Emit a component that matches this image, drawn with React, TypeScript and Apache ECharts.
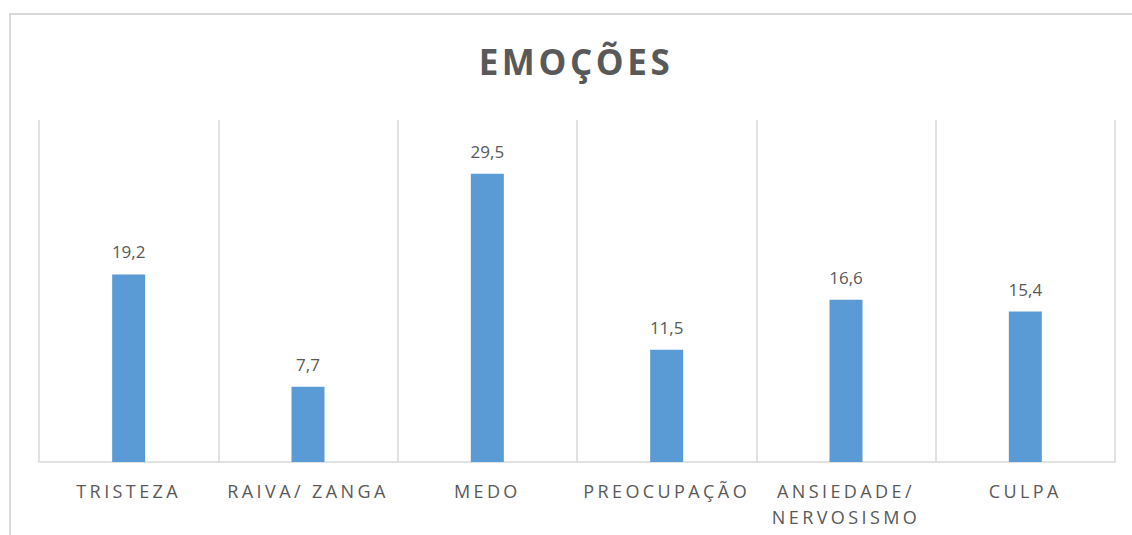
import React, { useEffect, useRef } from "react";
import * as echarts from "echarts";

const categories = ["TRISTEZA", "RAIVA/ ZANGA", "MEDO", "PREOCUPAÇÃO", "ANSIEDADE/ NERVOSISMO", "CULPA"];
const values = [19.2, 7.7, 29.5, 11.5, 16.6, 15.4];
const titleText = "EMOÇÕES";

export default function App() {
  const ref = useRef<HTMLDivElement>(null);
  useEffect(() => {
    document.body.style.margin = "0";
    const chart = echarts.init(ref.current!, null, { renderer: "svg" });
    chart.setOption({
      animation: false,
      backgroundColor: "#ffffff",
      graphic: [
        {
          type: "rect",
          shape: { x: 10, y: 14, width: 1300, height: 700 },
          style: { fill: "none", stroke: "#D9D9D9", lineWidth: 2 },
          silent: true,
        },
        {
          type: "text",
          x: 576,
          y: 61,
          style: {
            text: titleText,
            fill: "#595959",
            font: "bold 35px 'Open Sans'",
            textAlign: "center",
            textVerticalAlign: "middle",
          },
        },
      ],
      grid: { left: 39, right: 17, top: 120, bottom: 73 },
      xAxis: {
        type: "category",
        data: categories,
        boundaryGap: true,
        axisLine: { show: true, lineStyle: { color: "#D9D9D9", width: 1.5 } },
        axisTick: { show: false },
        splitLine: { show: true, lineStyle: { color: "#D9D9D9", width: 1.5 } },
        axisLabel: {
          color: "#595959",
          fontSize: 18,
          fontFamily: "'Open Sans'",
          margin: 16,
          lineHeight: 26,
          interval: 0,
          formatter: (v: string) => (v.length > 14 ? v.replace("/ ", "/\n") : v),
        },
      },
      yAxis: {
        type: "value",
        min: 0,
        max: 35,
        show: false,
        splitLine: { show: false },
      },
      series: [
        {
          type: "bar",
          data: values,
          barWidth: 33,
          itemStyle: { color: "#5B9BD5" },
          label: {
            show: true,
            position: "top",
            distance: 14,
            color: "#595959",
            fontSize: 17,
            fontFamily: "'Open Sans'",
            formatter: (p: any) => String(p.value).replace(".", ","),
          },
        },
      ],
    });
    return () => chart.dispose();
  }, []);
  return (
    <div>
      <style>{`
        #chartbox text[style*="18px"] { letter-spacing: 3.4px; }
        #chartbox text[style*="35px"] { letter-spacing: 3.6px; }
      `}</style>
      <div id="chartbox" ref={ref} style={{ width: 1132, height: 535 }} />
    </div>
  );
}
